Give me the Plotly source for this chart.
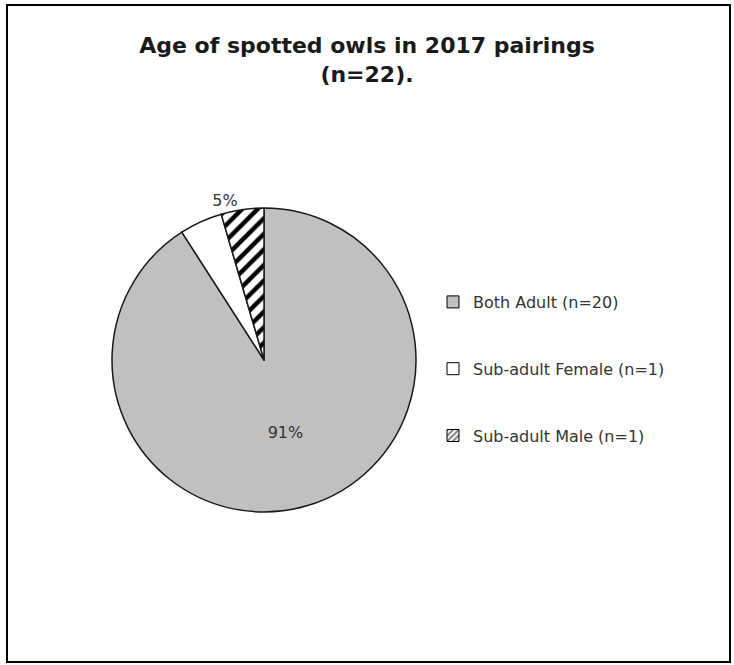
import plotly.graph_objects as go

# Data
categories = ["Both Adult (n=20)", "Sub-adult Female (n=1)", "Sub-adult Male (n=1)"]
counts = [20, 1, 1]
colors = ["#c0c0c0", "#ffffff", "#ffffff"]
patterns = ["", "", "/"]
text_templates = ["%{percent:.0%}", "", "%{percent:.0%}"]
text_positions = ["inside", "inside", "outside"]
title_text = "Age of spotted owls in 2017 pairings<br>(n=22)."

W, H = 734, 665
FONT = "DejaVu Sans, Liberation Sans, Arial, sans-serif"

fig = go.Figure()

fig.add_trace(go.Pie(
    labels=categories,
    values=counts,
    sort=False,
    direction="clockwise",
    rotation=0,
    marker=dict(
        colors=colors,
        line=dict(color="#1a1a1a", width=1.5),
        pattern=dict(shape=patterns, fgcolor="#000000", bgcolor="#ffffff",
                     size=11, solidity=0.4, fillmode="replace"),
    ),
    texttemplate=text_templates,
    textposition=text_positions,
    textfont=dict(family=FONT, size=16, color="#333333"),
    insidetextorientation="horizontal",
    showlegend=False,
    hoverinfo="label+percent",
    domain=dict(x=[112 / W, 416 / W], y=[1 - 512 / H, 1 - 208 / H]),
))

# legend entries (one per category) so entries can be spaced like the reference
for cat, col, pat in zip(categories, colors, patterns):
    fig.add_trace(go.Bar(
        x=[None], y=[None], name=cat, legendgroup=cat,
        marker=dict(color=col, line=dict(color="#000000", width=1),
                    pattern=dict(shape=pat, fgcolor="#000000", bgcolor="#ffffff",
                                 size=5, solidity=0.5)),
        showlegend=True, hoverinfo="skip",
    ))

fig.update_layout(
    width=W, height=H,
    margin=dict(l=0, r=0, t=0, b=0),
    paper_bgcolor="#ffffff",
    plot_bgcolor="#ffffff",
    title=dict(text=title_text, x=0.5, xanchor="center", y=1 - 53 / H, yanchor="top",
               font=dict(family=FONT, size=22, color="#1a1a1a", weight="bold")),
    xaxis=dict(visible=False),
    yaxis=dict(visible=False),
    legend=dict(x=433 / W, xanchor="left", y=1 - 285 / H, yanchor="top",
                font=dict(family=FONT, size=16, color="#333333"),
                itemwidth=30,
                tracegroupgap=43, itemclick=False, bgcolor="rgba(0,0,0,0)"),
    shapes=[dict(type="rect", xref="paper", yref="paper",
                 x0=7 / W, x1=730 / W, y0=1 - 662 / H, y1=1 - 5 / H,
                 line=dict(color="#000000", width=2))],
)

fig.write_html("out.html", config={"displayModeBar": False},
               post_script="document.body.style.margin='0px';")
